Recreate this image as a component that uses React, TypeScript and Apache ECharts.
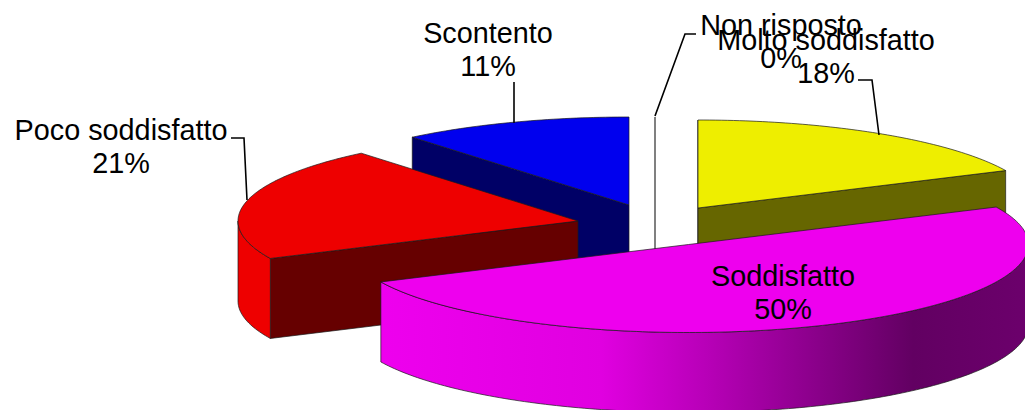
import React, { useEffect, useRef } from "react";
import * as echarts from "echarts";

const categories = ["Molto soddisfatto", "Soddisfatto", "Poco soddisfatto", "Scontento", "Non risposto"];
const values = [18, 50, 21, 11, 0];

const topColors = ["#EEEE00", "#EE00EE", "#EE0000", "#0000EE", "#FFFFFF"];
const radialWallColors = ["#666600", "#660066", "#660000", "#000066", "#FFFFFF"];
const drawOrder = [3, 2, 4, 0, 1];

const WIDTH = 1025;
const HEIGHT = 410;
const RX = 340;
const RY = 88;
const DEPTH = 80;
const FONT = 'Arial, "Liberation Sans", sans-serif';
const FONT_SIZE = 28.8;
const LINE_HEIGHT = 33;

// Exploded apex of every slice on the page
const apexes: number[][] = [[698, 208], [688.5, 244.5], [578, 221], [629, 205], [655, 205]];
// Centre of every two-line label
const labelCentres: number[][] = [[826, 56], [783, 292], [121, 146], [488, 49], [781, 41]];
// Leader lines
const leaders: number[][][] = [
  [[879, 135], [872, 80], [858, 80]],
  [],
  [[247, 200], [244, 138], [231, 138]],
  [[514, 123], [514, 82]],
  [[655, 116], [685, 34], [696, 34]],
];

const total = values.reduce((a, b) => a + b, 0);
const startAngles: number[] = [];
values.reduce((acc, v, i) => {
  startAngles[i] = acc;
  return acc + (v / total) * 360;
}, 0);

const rad = (d: number) => (d * Math.PI) / 180;
const rim = (c: number[], a: number, drop = 0) => [
  c[0] + RX * Math.sin(rad(a)),
  c[1] - RY * Math.cos(rad(a)) + drop,
];
const arc = (c: number[], a0: number, a1: number, drop = 0) => {
  const pts: number[][] = [];
  const n = Math.max(1, Math.ceil(Math.abs(a1 - a0)));
  for (let k = 0; k <= n; k++) pts.push(rim(c, a0 + ((a1 - a0) * k) / n, drop));
  return pts;
};

const magentaWall = new echarts.graphic.LinearGradient(
  381, 0, 1030, 0,
  [
    { offset: 0, color: "#EE00EE" },
    { offset: 0.34, color: "#E000E0" },
    { offset: 0.5, color: "#B800B8" },
    { offset: 0.82, color: "#620062" },
    { offset: 1, color: "#6C006C" },
  ],
  true
);

const edge = { stroke: "#1a1a1a", lineWidth: 0.7 };
const zeroEdge = { stroke: "#808080", lineWidth: 2 };

function renderSlice(params: any) {
  const i = drawOrder[params.dataIndex];
  const c = apexes[i];
  const a0 = startAngles[i];
  const a1 = a0 + (values[i] / total) * 360;
  const children: any[] = [];
  const poly = (points: number[][], fill: any, extra: any = {}) =>
    children.push({ type: "polygon", shape: { points }, style: { fill, ...edge, ...extra } });

  const radialWall = (a: number) => {
    const r = rim(c, a);
    const rb = rim(c, a, DEPTH);
    poly([c, r, rb, [c[0], c[1] + DEPTH]], radialWallColors[i], values[i] === 0 ? zeroEdge : {});
  };
  if (Math.sin(rad(a0)) <= 1e-6) radialWall(a0);
  if (Math.sin(rad(a1)) > 1e-6) radialWall(a1);

  const f0 = Math.max(a0, 90);
  const f1 = Math.min(a1, 270);
  if (f1 > f0) {
    poly([...arc(c, f0, f1), ...arc(c, f1, f0, DEPTH)], i === 1 ? magentaWall : topColors[i]);
  }

  poly([c, ...arc(c, a0, a1)], topColors[i], values[i] === 0 ? zeroEdge : {});

  if (leaders[i].length) {
    children.push({
      type: "polyline",
      shape: { points: leaders[i] },
      style: { fill: "none", stroke: "#000", lineWidth: 1.6 },
    });
  }
  children.push({
    type: "text",
    x: labelCentres[i][0],
    y: labelCentres[i][1],
    style: {
      text: `${categories[i]}\n${values[i]}%`,
      fill: "#000",
      fontFamily: FONT,
      fontSize: FONT_SIZE,
      lineHeight: LINE_HEIGHT,
      align: "center",
      verticalAlign: "middle",
    },
  });
  return { type: "group", children };
}

export default function App() {
  const ref = useRef<HTMLDivElement>(null);
  useEffect(() => {
    const chart = echarts.init(ref.current!, undefined, { renderer: "svg" });
    chart.setOption({
      animation: false,
      backgroundColor: "#FFFFFF",
      series: [
        {
          type: "custom",
          coordinateSystem: "none",
          silent: true,
          data: drawOrder.map((i) => ({ name: categories[i], value: values[i] })),
          renderItem: renderSlice,
        },
      ],
    });
    return () => chart.dispose();
  }, []);
  return (
    <div
      ref={ref}
      style={{ position: "fixed", left: 0, top: 0, width: WIDTH, height: HEIGHT, overflow: "hidden" }}
    />
  );
}
